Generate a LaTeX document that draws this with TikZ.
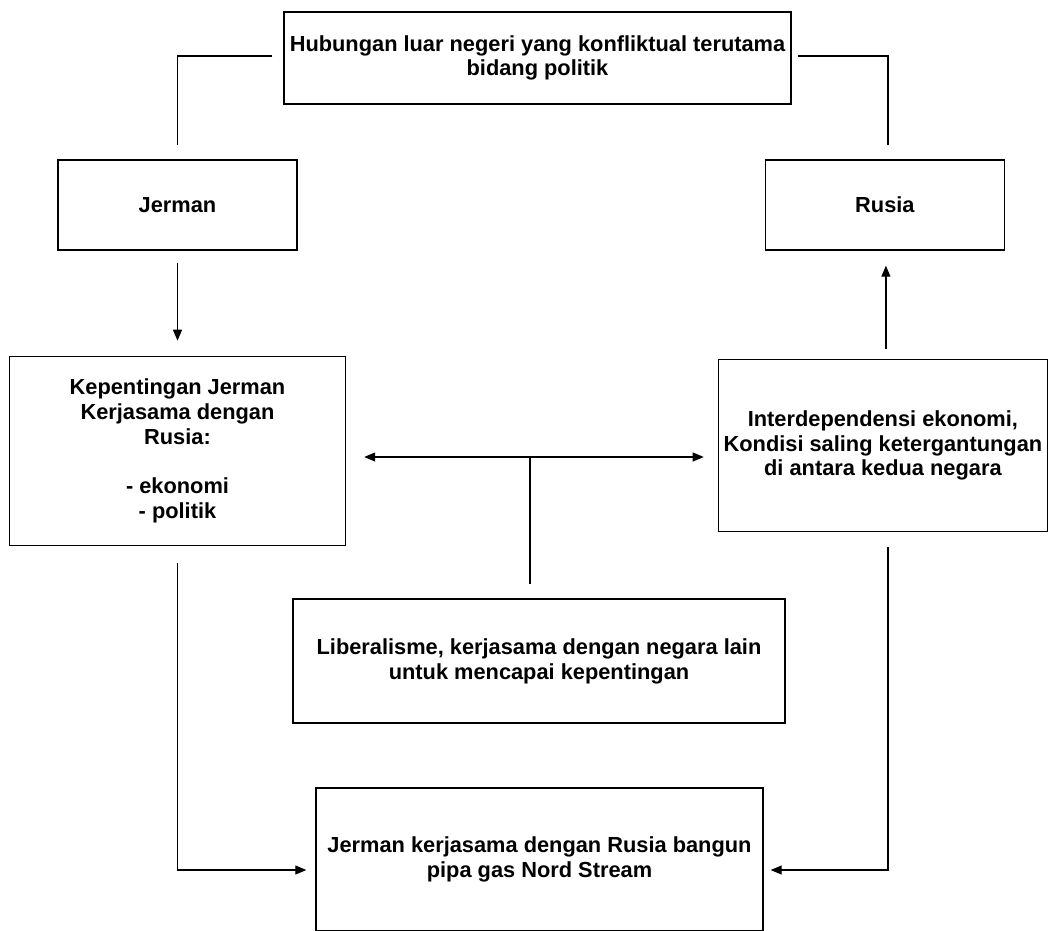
\documentclass[tikz,border=0pt]{standalone}
\usepackage{fontspec}
\setmainfont{Liberation Sans}
\usetikzlibrary{positioning,arrows.meta}

\begin{document}
\begin{tikzpicture}[
    x=1pt, y=1pt,
    font=\bfseries\fontsize{21.8}{24.8}\selectfont,
    kotak/.style={rectangle, draw, line width=1.4pt, align=center, inner sep=2pt},
    garis/.style={line width=1.2pt},
    arrow/.style={-{Triangle[length=11pt, width=9pt]}, line width=1.2pt}
]
\useasboundingbox (0,0) rectangle (1048,-930);

% Judul dan kedua negara
\node[kotak, minimum width=507pt, minimum height=92pt] (judul) at (537.5,-58) {Hubungan luar negeri yang konfliktual terutama\\bidang politik};
\node[kotak, minimum width=239pt, minimum height=90pt] (jerman) at (177.5,-205) {Jerman};
\node[kotak, minimum width=239pt, minimum height=90pt, right=467pt of jerman] (rusia) {Rusia};

% Kepentingan dan interdependensi
\node[kotak, minimum width=336pt, minimum height=189pt, below=105pt of jerman] (kepentingan) {
    Kepentingan Jerman\\
    Kerjasama dengan\\
    Rusia:\\[24.8pt]
    - ekonomi\\
    - politik
};
\node[kotak, minimum width=329pt, minimum height=172pt, below=108pt of rusia, xshift=-2pt] (interdep) {
    Interdependensi ekonomi,\\
    Kondisi saling ketergantungan\\
    di antara kedua negara
};

% Teori dan hasil
\node[kotak, minimum width=492pt, minimum height=124pt] (liberal) at (539,-661) {Liberalisme, kerjasama dengan negara lain\\untuk mencapai kepentingan};
\node[kotak, minimum width=447pt, minimum height=143pt] (nord) at (539.5,-859.5) {Jerman kerjasama dengan Rusia bangun\\pipa gas Nord Stream};

\coordinate (simpang) at (530,-457);

% Garis dan panah
\draw[garis, shorten <=11pt, shorten >=14pt] ([yshift=2pt]judul.west) -| (jerman.north);
\draw[garis, shorten <=6pt, shorten >=14pt] ([yshift=2pt]judul.east) -| ([xshift=3pt]rusia.north);
\draw[arrow, shorten <=12pt, shorten >=15pt] (jerman) -- (kepentingan);
\draw[arrow, shorten <=10pt, shorten >=15pt] ([xshift=3pt]interdep.north) -- ([xshift=1pt]rusia.south);
\draw[arrow, shorten >=18pt] (simpang) -- (simpang -| kepentingan.east);
\draw[arrow, shorten >=14pt] (simpang) -- (simpang -| interdep.west);
\draw[garis, shorten <=14pt] (simpang |- liberal.north) -- (simpang);
\draw[arrow, shorten <=17pt, shorten >=9pt] (kepentingan.south) |- ([yshift=-10.5pt]nord.west);
\draw[arrow, shorten <=15pt, shorten >=7pt] ([xshift=5pt]interdep.south) |- ([yshift=-10.5pt]nord.east);

\end{tikzpicture}
\end{document}
